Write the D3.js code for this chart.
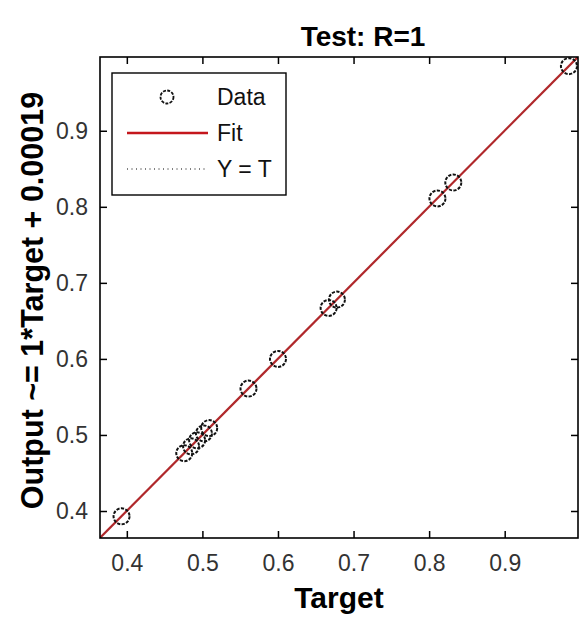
<!DOCTYPE html>
<html><head><meta charset="utf-8">
<script src="https://cdn.jsdelivr.net/npm/d3@7"></script>
<style>body{margin:0;background:#fff;} text{font-family:"Liberation Sans",Arial,sans-serif;}</style>
</head><body>
<svg id="c" width="582" height="619"></svg>
<script>
const targets = [0.393, 0.476, 0.485, 0.493, 0.502, 0.509, 0.561, 0.600, 0.667, 0.678, 0.811, 0.832, 0.985];
const outputs = [0.393, 0.476, 0.485, 0.493, 0.502, 0.509, 0.561, 0.600, 0.667, 0.678, 0.811, 0.832, 0.985];
const ticks = [0.4, 0.5, 0.6, 0.7, 0.8, 0.9];
const tickLabels = ["0.4", "0.5", "0.6", "0.7", "0.8", "0.9"];
const fitSlope = 1, fitIntercept = 0.00019;
const domain = [0.3645, 0.997];
const legendItems = ["Data", "Fit", "Y = T"];

const svg = d3.select("#c");
const L = 100, R = 578, T = 57, B = 538;
const x = d3.scaleLinear().domain(domain).range([L, R]);
const y = d3.scaleLinear().domain(domain).range([B, T]);

svg.append("rect").attr("width",582).attr("height",619).attr("fill","#fff");

svg.append("clipPath").attr("id","pc").append("rect")
  .attr("x",L).attr("y",T).attr("width",R-L).attr("height",B-T);

const g = svg.append("g").attr("clip-path","url(#pc)");
// Y = T
g.append("line").attr("x1",x(domain[0])).attr("y1",y(domain[0])).attr("x2",x(domain[1])).attr("y2",y(domain[1]))
  .attr("stroke","#000").attr("stroke-width",1).attr("stroke-dasharray","1,3");
// Fit
g.append("line")
  .attr("x1",x(domain[0])).attr("y1",y(fitSlope*domain[0]+fitIntercept))
  .attr("x2",x(domain[1])).attr("y2",y(fitSlope*domain[1]+fitIntercept))
  .attr("stroke","#b0282b").attr("stroke-width",2.2);
// Data
g.selectAll("circle.d").data(targets.map((t,i)=>[t,outputs[i]])).enter().append("circle")
  .attr("cx",d=>x(d[0])).attr("cy",d=>y(d[1])).attr("r",8)
  .attr("fill","none").attr("stroke","#111").attr("stroke-width",2).attr("stroke-dasharray","3.2,1.4");

// axes
const xb = d3.axisBottom(x).tickValues(ticks).tickFormat((d,i)=>tickLabels[i]).tickSizeInner(-7).tickSizeOuter(0).tickPadding(17);
const xt = d3.axisTop(x).tickValues(ticks).tickFormat("").tickSizeInner(-7).tickSizeOuter(0);
const yl = d3.axisLeft(y).tickValues(ticks).tickFormat((d,i)=>tickLabels[i]).tickSizeInner(-7).tickSizeOuter(0).tickPadding(12);
const yr = d3.axisRight(y).tickValues(ticks).tickFormat("").tickSizeInner(-7).tickSizeOuter(0);
function style(sel){
  sel.select(".domain").remove();
  sel.selectAll(".tick line").attr("stroke","#000").attr("stroke-width",1.5);
  sel.selectAll(".tick text").attr("fill","#333").style("font-size","23px").style("font-family","'Liberation Sans',Arial,sans-serif");
}
svg.append("g").attr("transform",`translate(0,${B})`).call(xb).call(style);
svg.append("g").attr("transform",`translate(0,${T})`).call(xt).call(style);
svg.append("g").attr("transform",`translate(${L},0)`).call(yl).call(style);
svg.append("g").attr("transform",`translate(${R},0)`).call(yr).call(style);

svg.append("rect").attr("x",L).attr("y",T).attr("width",R-L).attr("height",B-T)
  .attr("fill","none").attr("stroke","#000").attr("stroke-width",1.6);

// legend
const lg = svg.append("g");
lg.append("rect").attr("x",112).attr("y",73).attr("width",174).attr("height",122)
  .attr("fill","#fff").attr("stroke","#000").attr("stroke-width",1.4);
const rows = [97, 133, 169];
lg.append("circle").attr("cx",167).attr("cy",rows[0]).attr("r",6.5).attr("fill","none")
  .attr("stroke","#111").attr("stroke-width",1.8).attr("stroke-dasharray","3,1.3");
lg.append("line").attr("x1",127).attr("x2",208).attr("y1",rows[1]).attr("y2",rows[1])
  .attr("stroke","#c4161c").attr("stroke-width",2.6);
lg.append("line").attr("x1",127).attr("x2",208).attr("y1",rows[2]).attr("y2",rows[2])
  .attr("stroke","#000").attr("stroke-width",1).attr("stroke-dasharray","1,3.5");
lg.selectAll("text").data(legendItems).enter().append("text")
  .attr("x",217).attr("y",(d,i)=>rows[i]+8).text(d=>d)
  .attr("fill","#111").style("font-size","23px");

// titles
svg.append("text").attr("x",363).attr("y",46).attr("text-anchor","middle")
  .style("font-size","28px").style("font-weight","bold").text("Test: R=1");
svg.append("text").attr("x",339).attr("y",608).attr("text-anchor","middle")
  .style("font-size","30px").style("font-weight","bold").text("Target");
svg.append("text").attr("transform",`translate(43,${(T+B)/2+3}) rotate(-90)`).attr("text-anchor","middle")
  .style("font-size","30.5px").style("font-weight","bold").text("Output ~= 1*Target + 0.00019");
</script>
</body></html>
